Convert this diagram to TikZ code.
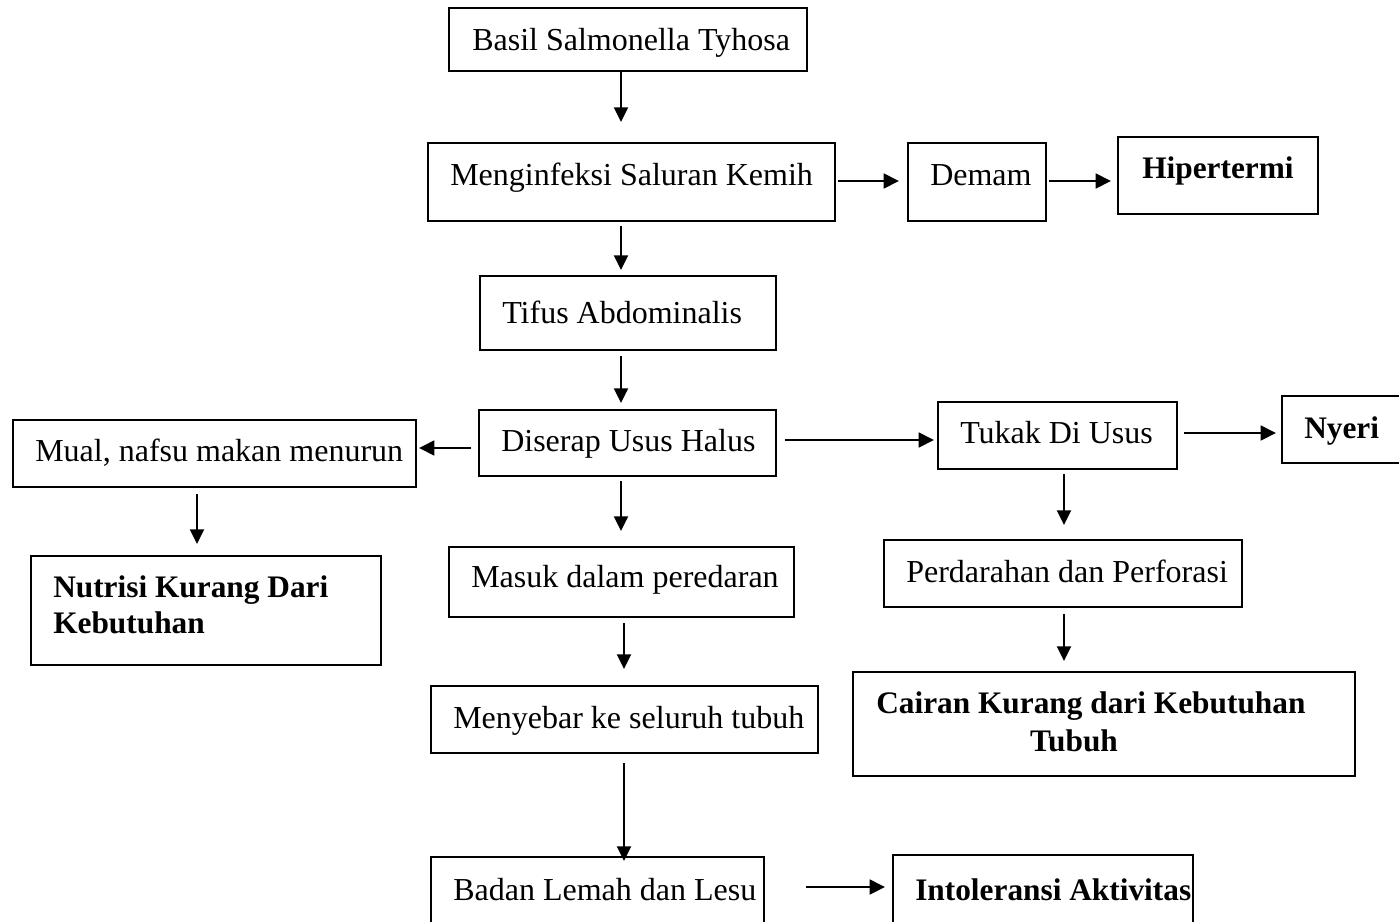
\documentclass[tikz,border=0pt]{standalone}
\usepackage{fontspec}
\setmainfont{Liberation Serif}
\usetikzlibrary{arrows.meta,fit}
\begin{document}
\begin{tikzpicture}[x=0.75pt,y=-0.75pt,
  box/.style={draw=black,line width=1.5pt,inner sep=0pt,rectangle},
  txt/.style={inner sep=0pt,anchor=base west,font=\fontsize{24}{28}\selectfont},
  btxt/.style={txt,font=\fontsize{23.5}{28}\selectfont\bfseries},
  arr/.style={line width=1.5pt,-{Triangle[length=11pt,width=10.5pt]}},
  harr/.style={line width=2pt,-{Triangle[length=11.5pt,width=11pt]}}]
\useasboundingbox (0,0) rectangle (1399,921);
\clip (0,0) rectangle (1399,921);
% boxes
\node[box,fit={(449,8) (807,71)}] (basil) {};
\node[box,fit={(428,143) (835,221)}] (meng) {};
\node[box,fit={(908,143) (1046,221)}] (demam) {};
\node[box,fit={(1118,137) (1318,214)}] (hiper) {};
\node[box,fit={(480,276) (776,350)}] (tifus) {};
\node[box,fit={(479,410) (776,476)}] (diserap) {};
\node[box,fit={(13,420) (416,487)}] (mual) {};
\node[box,fit={(938,402) (1177,469)}] (tukak) {};
\node[box,fit={(1282,396) (1430,463)}] (nyeri) {};
\node[box,fit={(31,556) (381,665)}] (nutrisi) {};
\node[box,fit={(449,547) (794,617)}] (masuk) {};
\node[box,fit={(884,540) (1242,607)}] (perd) {};
\node[box,fit={(431,686) (818,753)}] (menyebar) {};
\node[box,fit={(853,672) (1355,776)}] (cairan) {};
\node[box,fit={(431,857) (764,945)}] (badan) {};
\node[box,fit={(893,855) (1193,945)}] (intol) {};
% texts
\node[txt] (basilT) at (472,50) {Basil Salmonella Tyhosa};
\node[txt] (mengT) at (450,185) {Menginfeksi Saluran Kemih};
\node[txt] (demamT) at (930,185) {Demam};
\node[btxt] (hiperT) at (1142,178) {Hipertermi};
\node[txt] (tifusT) at (502,323) {Tifus Abdominalis};
\node[txt] (diserapT) at (501,451) {Diserap Usus Halus};
\node[txt] (mualT) at (35,461) {Mual, nafsu makan menurun};
\node[txt] (tukakT) at (960,443) {Tukak Di Usus};
\node[btxt] (nyeriT) at (1304,438) {Nyeri};
\node[btxt] (nutrisiT1) at (53,597) {Nutrisi Kurang Dari};
\node[btxt] (nutrisiT2) at (53,633) {Kebutuhan};
\node[txt] (masukT) at (471,587) {Masuk dalam peredaran};
\node[txt] (perdT) at (906,582) {Perdarahan dan Perforasi};
\node[txt] (menyebarT) at (453,728) {Menyebar ke seluruh tubuh};
\node[btxt] (cairanT1) at (876,713) {Cairan Kurang dari Kebutuhan};
\node[btxt,anchor=base] (cairanT2) at (1074,751) {Tubuh};
\node[txt] (badanT) at (453,900) {Badan Lemah dan Lesu};
\node[btxt] (intolT) at (915,900) {Intoleransi Aktivitas};
% arrows
\draw[arr,shorten >=15pt] (basil.south -| 621,0) -- (meng.north -| 621,0);
\draw[harr,shorten <=1.5pt,shorten >=6pt] (meng.east |- 0,181) -- (demam.west |- 0,181);
\draw[harr,shorten <=1.5pt,shorten >=4.5pt] (demam.east |- 0,181) -- (hiper.west |- 0,181);
\draw[arr,shorten <=3pt,shorten >=3.75pt] (meng.south -| 621,0) -- (tifus.north -| 621,0);
\draw[arr,shorten <=3.75pt,shorten >=4.5pt] (tifus.south -| 621,0) -- (diserap.north -| 621,0);
\draw[harr,shorten <=5.25pt,shorten >=1.5pt] (diserap.west |- 0,448) -- (mual.east |- 0,448);
\draw[harr,shorten <=6pt,shorten >=2.25pt] (diserap.east |- 0,440) -- (tukak.west |- 0,440);
\draw[harr,shorten <=4.5pt,shorten >=3.75pt] (tukak.east |- 0,433) -- (nyeri.west |- 0,433);
\draw[arr,shorten <=4.5pt,shorten >=8.25pt] (mual.south -| 197,0) -- (nutrisi.north -| 197,0);
\draw[arr,shorten <=3pt,shorten >=11.25pt] (diserap.south -| 621,0) -- (masuk.north -| 621,0);
\draw[arr,shorten <=3pt,shorten >=10.5pt] (tukak.south -| 1064,0) -- (perd.north -| 1064,0);
\draw[arr,shorten <=3.75pt,shorten >=12pt] (masuk.south -| 624,0) -- (menyebar.north -| 624,0);
\draw[arr,shorten <=4.5pt,shorten >=7.5pt] (perd.south -| 1064,0) -- (cairan.north -| 1064,0);
\draw[arr,shorten <=6.75pt,shorten >=-3.75pt] (menyebar.south -| 624,0) -- (badan.north -| 624,0);
\draw[harr,shorten <=30.75pt,shorten >=5.25pt] (badan.east |- 0,887) -- (intol.west |- 0,887);
\end{tikzpicture}
\end{document}
